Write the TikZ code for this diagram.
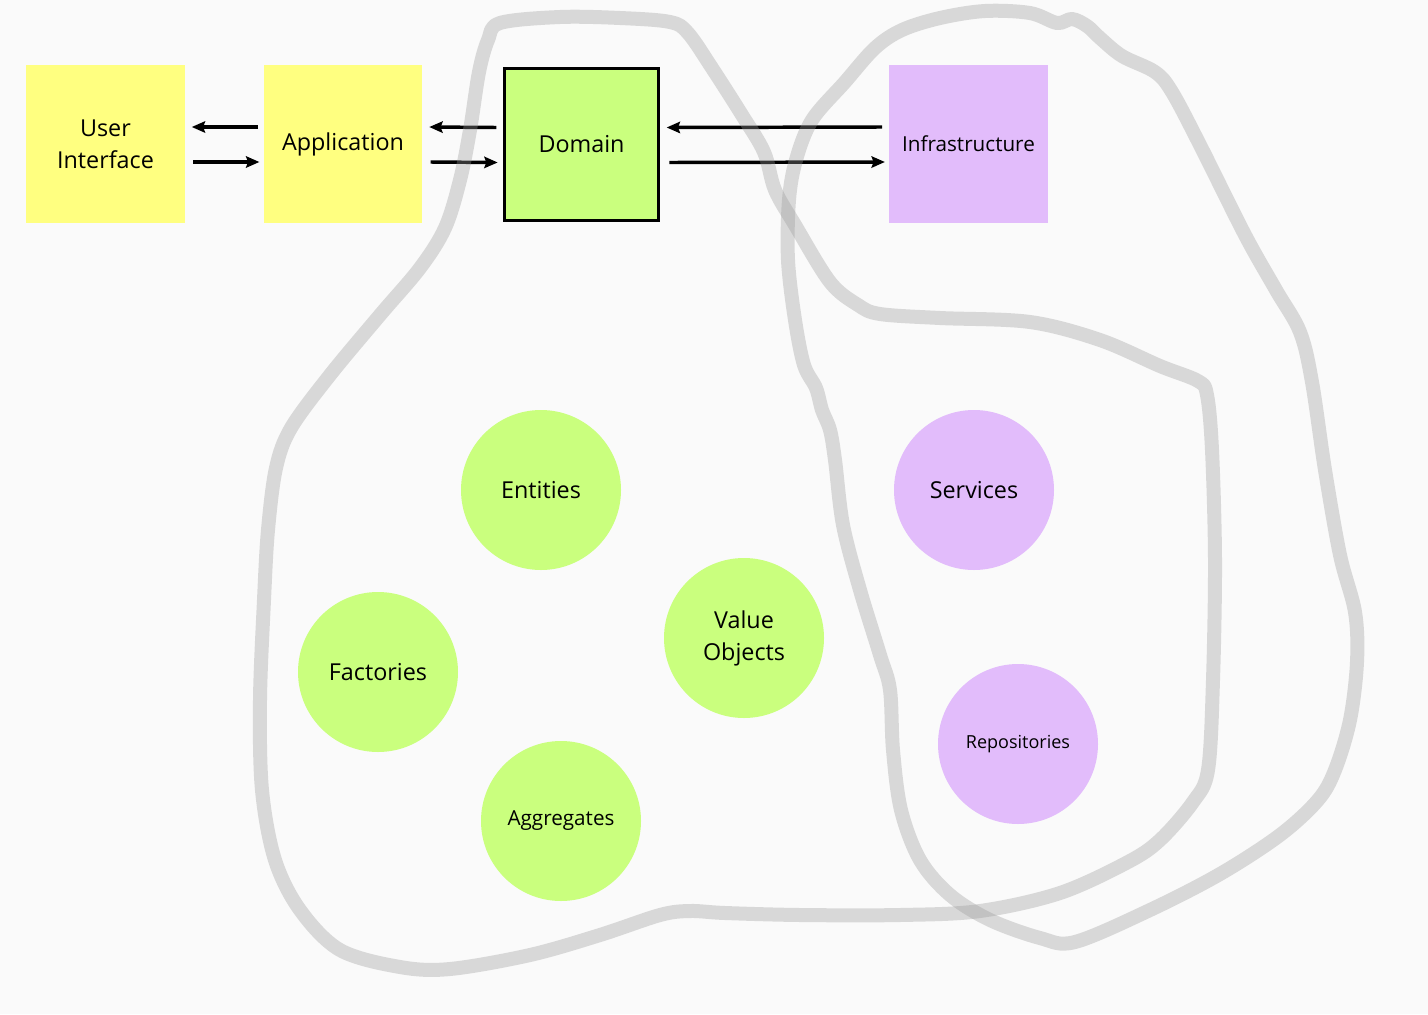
\documentclass[tikz,border=0pt]{standalone}
\usepackage{fontspec}
\setmainfont{Open Sans}
\usetikzlibrary{arrows.meta, positioning}
\definecolor{ddbg}{HTML}{FAFAFA}
\definecolor{ddyellow}{HTML}{FFFF80}
\definecolor{ddgreen}{HTML}{CAFF7E}
\definecolor{ddpurple}{HTML}{E2BCFB}
\definecolor{ddgrey}{HTML}{9A9A9A}

\begin{document}
\begin{tikzpicture}[x=0.75pt, y=-0.75pt,
  layer/.style={minimum width=119pt, minimum height=118.5pt, inner sep=2pt,
    align=center, font=\fontsize{17.5}{24}\selectfont},
  concept/.style={circle, minimum size=120pt, inner sep=0pt, align=center,
    font=\fontsize{17.5}{24}\selectfont},
  mid/.style={font=\fontsize{15.5}{20}\selectfont},
  small/.style={font=\fontsize{13.5}{18}\selectfont},
  flow/.style={line width=2.6pt, -{Stealth[length=10pt, width=8.5pt, inset=1.5pt]}},
  lasso/.style={draw=ddgrey, line width=10.5pt, draw opacity=0.35,
    line join=round}]
  % page
  \fill[ddbg] (0,0) rectangle (1428,1014);
  \useasboundingbox (0,0) rectangle (1428,1014);

  % layers
  \node[layer, fill=ddyellow] (ui) at (105.5,144) {User\\Interface};
  \node[layer, fill=ddyellow] (app) at (343,144) {Application};
  \node[layer, fill=ddgreen, draw=black, line width=2.25pt,
    minimum width=115.5pt, minimum height=114pt] (dom) at (581.5,144.5) {Domain};
  \node[layer, mid, fill=ddpurple] (infra) at (968.5,144) {Infrastructure};

  \draw[flow] ([xshift=-4pt, yshift=12.75pt]app.west) -- ([xshift=5pt, yshift=12.75pt]ui.east);
  \draw[flow] ([xshift=6pt, yshift=-13.5pt]ui.east) -- ([xshift=-3pt, yshift=-13.5pt]app.west);
  \draw[flow] ([xshift=-5pt, yshift=12.75pt]dom.west) -- ([xshift=5pt, yshift=12.75pt]app.east);
  \draw[flow] ([xshift=6pt, yshift=-13.5pt]app.east) -- ([xshift=-4pt, yshift=-13.5pt]dom.west);
  \draw[flow] ([xshift=-5pt, yshift=12.75pt]infra.west) -- ([xshift=5pt, yshift=12.75pt]dom.east);
  \draw[flow] ([xshift=7pt, yshift=-13.5pt]dom.east) -- ([xshift=-3pt, yshift=-13.5pt]infra.west);

  % building blocks
  \node[concept, fill=ddgreen] (ent) at (541,490) {Entities};
  \node[concept, fill=ddgreen] (fac) at (378,672) {Factories};
  \node[concept, fill=ddgreen] (vo) at (744,638) {Value\\Objects};
  \node[concept, mid, fill=ddgreen] (agg) at (561,821) {Aggregates};
  \node[concept, fill=ddpurple] (svc) at (974,490) {Services};
  \node[concept, small, fill=ddpurple] (repo) at (1018,744) {Repositories};

  % hand drawn lassos
  \draw[lasso] plot[smooth cycle, tension=0.55] coordinates {
    (500,23) (560,17) (620,18) (670,22) (688,33) (712,68) (742,115)
    (764,152) (775,190) (795,225) (830,282) (858,305) (880,314) (940,318)
    (1030,322) (1100,340) (1160,366) (1198,381) (1207,395) (1212,450)
    (1215,560) (1213,680) (1208,770) (1193,802) (1160,840) (1128,862)
    (1060,893) (980,911) (900,915) (800,915) (725,913) (690,911) (660,915)
    (600,935) (530,955) (450,969) (400,967) (340,950) (300,910) (275,860)
    (262,790) (260,700) (264,600) (268,530) (276,468) (291,428) (330,375)
    (380,315) (420,268) (445,228) (460,180) (470,130) (479,72) (488,40)};
  \draw[lasso] plot[smooth cycle, tension=0.55] coordinates {
    (985,11) (1030,13) (1057,23) (1072,19) (1087,26) (1100,38) (1122,56)
    (1155,72) (1172,92) (1200,145) (1245,235) (1276,290) (1300,332)
    (1312,382) (1325,470) (1340,555) (1355,612) (1357,662) (1350,720)
    (1335,770) (1318,800) (1280,835) (1220,874) (1150,910) (1075,942)
    (1040,938) (990,920) (950,895) (920,860) (901,810) (893,750) (890,690)
    (880,655) (860,590) (843,525) (835,460) (830,430) (822,410) (816,388)
    (804,365) (795,320) (788,260) (789,200) (796,160) (812,120) (845,82)
    (875,48) (902,30) (940,18)};
\end{tikzpicture}
\end{document}
